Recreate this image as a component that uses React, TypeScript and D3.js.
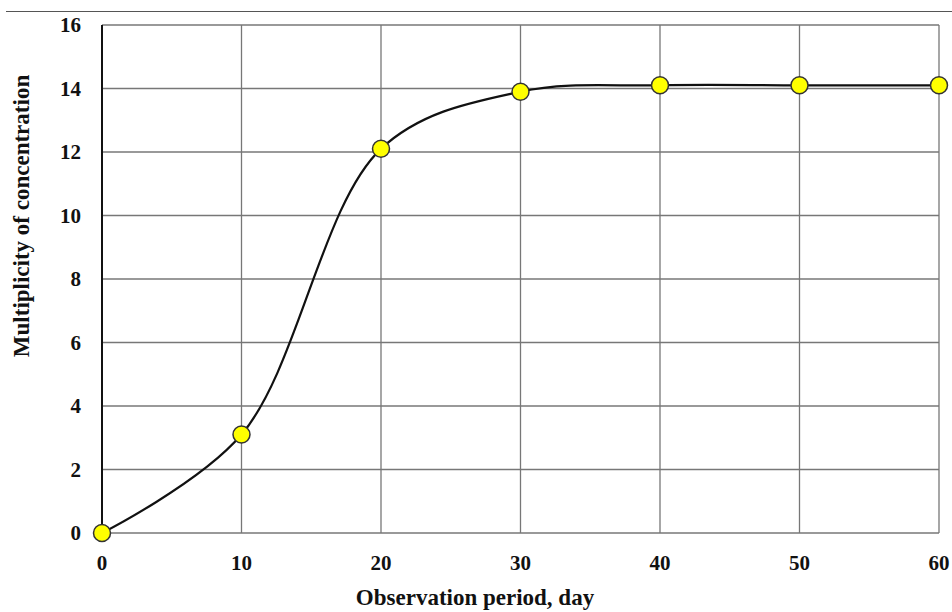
import React from "react";
import * as d3 from "d3";

const days = [0, 10, 20, 30, 40, 50, 60];
const multiplicity = [0, 3.1, 12.1, 13.9, 14.1, 14.1, 14.1];
const xTicks = [0, 10, 20, 30, 40, 50, 60];
const yTicks = [0, 2, 4, 6, 8, 10, 12, 14, 16];

const W = 952;
const H = 612;
const left = 102;
const right = 939;
const top = 25;
const bottom = 533;

export default function App() {
  const x = d3.scaleLinear().domain([0, 60]).range([left, right]);
  const y = d3.scaleLinear().domain([0, 16]).range([bottom, top]);
  const pts = days.map((d, i) => [d, multiplicity[i]] as [number, number]);
  const line = d3
    .line<[number, number]>()
    .x((d) => x(d[0]))
    .y((d) => y(d[1]))
    .curve(d3.curveCatmullRom.alpha(0.5));
  const font = "'Liberation Serif', 'Times New Roman', serif";
  return (
    <svg
      width={W}
      height={H}
      style={{ position: "absolute", left: 0, top: 0, background: "#fff" }}
      fontFamily={font}
    >
      <line x1={6} x2={W} y1={11.5} y2={11.5} stroke="#555" strokeWidth={1.2} />
      {yTicks.map((t) => (
        <line key={"gy" + t} x1={left} x2={right} y1={y(t)} y2={y(t)} stroke="#777" strokeWidth={1.3} />
      ))}
      {xTicks.map((t) => (
        <line key={"gx" + t} x1={x(t)} x2={x(t)} y1={top} y2={bottom} stroke="#777" strokeWidth={1.3} />
      ))}
      <line x1={left} x2={left} y1={top} y2={bottom} stroke="#111" strokeWidth={2} />
      {yTicks.map((t) => (
        <text key={"ty" + t} x={81} y={y(t)} dy="0.35em" textAnchor="end" fontSize={21} fontWeight="bold" fill="#111">
          {t}
        </text>
      ))}
      {xTicks.map((t) => (
        <text key={"tx" + t} x={x(t)} y={570} textAnchor="middle" fontSize={21} fontWeight="bold" fill="#111">
          {t}
        </text>
      ))}
      <path d={line(pts) || ""} fill="none" stroke="#111" strokeWidth={2.2} />
      {pts.map((p, i) => (
        <circle key={"c" + i} cx={x(p[0])} cy={y(p[1])} r={8.5} fill="#ffff00" stroke="#333" strokeWidth={1.5} />
      ))}
      <text x={475} y={605} textAnchor="middle" fontSize={23} fontWeight="bold" fill="#111">
        Observation period, day
      </text>
      <text
        transform={`translate(29,216) rotate(-90)`}
        textAnchor="middle"
        fontSize={23}
        fontWeight="bold"
        fill="#111"
      >
        Multiplicity of concentration
      </text>
    </svg>
  );
}
